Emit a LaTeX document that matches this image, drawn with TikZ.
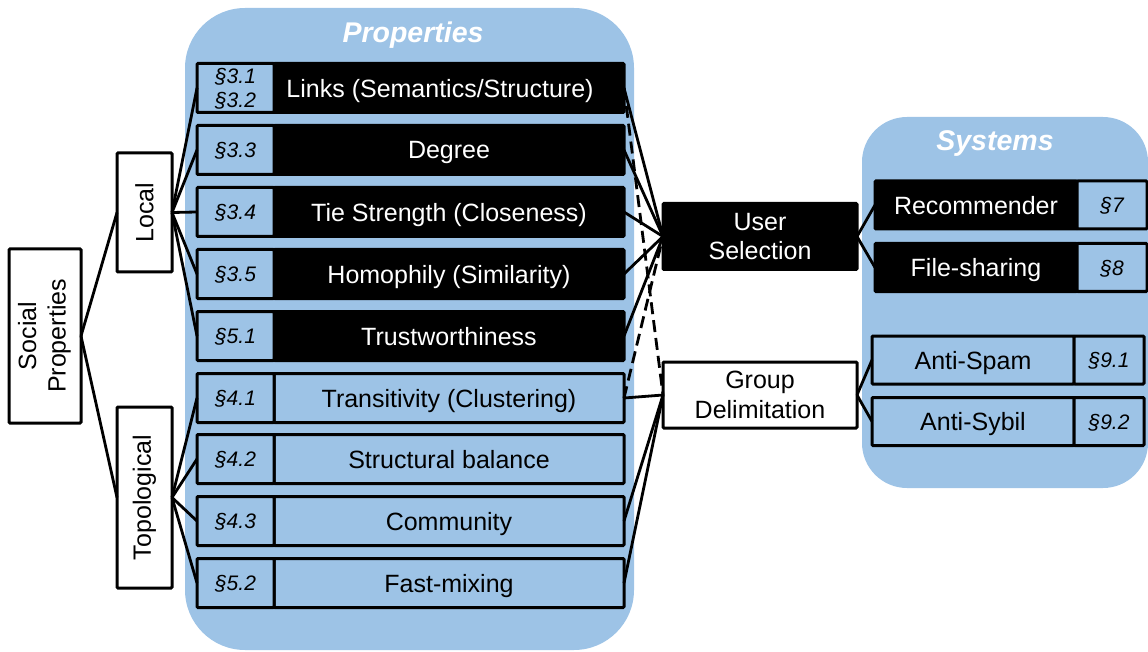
\documentclass[tikz,border=0pt]{standalone}
\usepackage{fontspec}
\setmainfont{Liberation Sans}
\definecolor{lblue}{RGB}{157,195,230}
\newcommand{\fsmain}{\fontsize{25}{29.5}\selectfont}
\newcommand{\fssec}{\fontsize{21}{23}\selectfont\itshape}
\newcommand{\fstitle}{\fontsize{28.5}{32}\selectfont\bfseries\itshape}
\begin{document}
\begin{tikzpicture}[x=1pt,y=-1pt,
  panel/.style={fill=lblue},
  box/.style={draw=black, line width=3pt, inner sep=0pt, outer sep=0pt, rounded corners=1pt},
  sec/.style={box, fill=lblue, minimum width=77pt, minimum height=49pt, text depth=0pt, font=\fssec},
  prop/.style={box, fill=lblue, minimum width=350pt, minimum height=49pt, text depth=0pt, font=\fsmain},
  sys/.style={box, fill=lblue, minimum width=202pt, minimum height=48pt, text depth=0pt, font=\fsmain},
  syssec/.style={box, fill=lblue, minimum width=70pt, minimum height=48pt, text depth=0pt, font=\fssec},
  dark/.style={fill=black, text=white},
  cat/.style={box, fill=white, font=\fsmain},
  mid/.style={box, minimum width=194pt, minimum height=66pt, align=center, font=\fsmain},
  title/.style={text=white, text depth=0pt, font=\fstitle},
  conn/.style={line width=2.8pt},
  dconn/.style={line width=2.8pt, dash pattern=on 12pt off 6pt}]
\useasboundingbox (0,0) rectangle (1148,652);

% background panels
\fill[panel, rounded corners=60pt] (185,8) rectangle (634,650);
\fill[panel, rounded corners=45pt] (862,117) rectangle (1148,488);
\node[title] (ptitle) at (413,32) {Properties};
\node[title] (stitle) at (995,141) {Systems};

% left hierarchy
\node[cat, minimum width=72pt, minimum height=174pt] (social) at (45,336)
  {\rotatebox{90}{\begin{tabular}{@{}c@{}}Social\\Properties\end{tabular}}};
\node[cat, minimum width=55pt, minimum height=119pt] (local) at (144.5,212.5)
  {\rotatebox{90}{Local}};
\node[cat, minimum width=55pt, minimum height=181pt] (topo) at (144.5,497.5)
  {\rotatebox{90}{Topological}};

% property rows (local)
\node[prop, dark] (p1) at (449,88)  {Links (Semantics/Structure)\hspace*{18pt}};
\node[sec, align=center, font=\fontsize{21}{24}\selectfont\itshape] (s1) at (235.5,88) {§3.1\\§3.2};
\node[prop, dark] (p2) at (449,150) {Degree};
\node[sec] (s2) at (235.5,150) {§3.3};
\node[prop, dark] (p3) at (449,212) {Tie Strength (Closeness)};
\node[sec] (s3) at (235.5,212) {§3.4};
\node[prop, dark] (p4) at (449,274) {Homophily (Similarity)};
\node[sec] (s4) at (235.5,274) {§3.5};
\node[prop, dark] (p5) at (449,336) {Trustworthiness};
\node[sec] (s5) at (235.5,336) {§5.1};

% property rows (topological)
\node[prop] (p6) at (449,398) {Transitivity (Clustering)};
\node[sec] (s6) at (235.5,398) {§4.1};
\node[prop] (p7) at (449,459) {Structural balance};
\node[sec] (s7) at (235.5,459) {§4.2};
\node[prop] (p8) at (449,521) {Community};
\node[sec] (s8) at (235.5,521) {§4.3};
\node[prop] (p9) at (449,583) {Fast-mixing};
\node[sec] (s9) at (235.5,583) {§5.2};

% middle
\node[mid, dark] (user) at (760,236.5) {User\\Selection};
\node[mid, fill=white] (group) at (760,395) {Group\\Delimitation};

% systems
\node[sys, dark] (rec) at (976,205) {Recommender};
\node[syssec] (rsec) at (1112,205) {§7};
\node[sys, dark] (file) at (976,267.5) {File-sharing};
\node[syssec] (fsec) at (1112,267.5) {§8};
\node[sys] (spam) at (973,360) {Anti-Spam};
\node[syssec] (spsec) at (1109,360) {§9.1};
\node[sys] (sybil) at (973,421.5) {Anti-Sybil};
\node[syssec] (sysec) at (1109,421.5) {§9.2};

% connectors
\draw[conn] (social.east) -- (local.west);
\draw[conn] (social.east) -- (topo.west);
\foreach \i in {1,...,5} \draw[conn] (local.east) -- (s\i.west);
\foreach \i in {6,...,9} \draw[conn] (topo.east) -- (s\i.west);
\foreach \i in {1,...,5} \draw[conn] (p\i.east) -- (user.west);
\foreach \i in {6,8,9} \draw[conn] (p\i.east) -- (group.west);
\draw[dconn] (p1.east) -- (group.west);
\draw[dconn] (p6.east) -- (user.west);
\draw[conn] (user.east) -- (rec.west);
\draw[conn] (user.east) -- (file.west);
\draw[conn] (group.east) -- (spam.west);
\draw[conn] (group.east) -- (sybil.west);
\end{tikzpicture}
\end{document}
